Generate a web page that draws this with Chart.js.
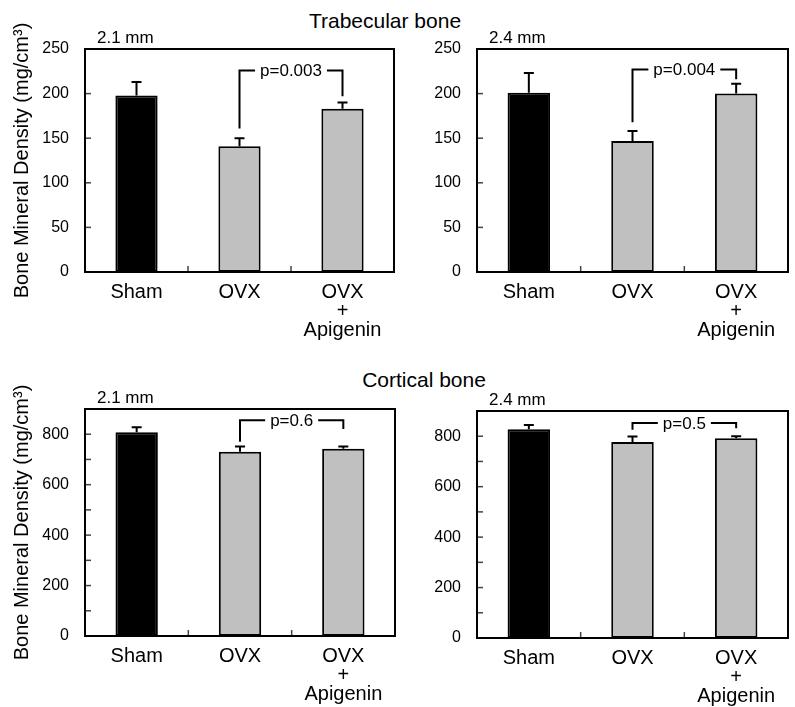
<!DOCTYPE html>
<html>
<head>
<meta charset="utf-8">
<script src="https://cdn.jsdelivr.net/npm/chart.js@4.4.1/dist/chart.umd.min.js"></script>
<style>
    body { margin: 0; background: #fff; }
    #fig { position: relative; width: 795px; height: 707px; font-family: "Liberation Sans", Arial, sans-serif; }
    canvas { position: absolute; }
    .title { position: absolute; font-size: 21px; color: #000; white-space: nowrap; transform: translate(-50%, -50%); }
</style>
</head>
<body>
<div id="fig">
    <div class="title" style="left:385px; top:21px;">Trabecular bone</div>
    <div class="title" style="left:424px; top:380px;">Cortical bone</div>
    <canvas id="c1" width="400" height="350" style="left:0; top:0;"></canvas>
    <canvas id="c2" width="398" height="350" style="left:397px; top:0;"></canvas>
    <canvas id="c3" width="400" height="357" style="left:0; top:350px;"></canvas>
    <canvas id="c4" width="398" height="357" style="left:397px; top:350px;"></canvas>
</div>
<script>
// Data
const categories = ["Sham", "OVX", ["OVX", "+", "Apigenin"]];
const barColors = ["#000000", "#c0c0c0", "#c0c0c0"];

const trab21 = [198, 141, 183];
const trab21Err = [15, 9, 7];
const trab24 = [201, 147, 200];
const trab24Err = [22, 11, 11];
const cort21 = [808, 731, 742];
const cort21Err = [20, 20, 9];
const cort24 = [828, 777, 792];
const cort24Err = [16, 22, 8];

// bracket heights: [left foot, top, right foot]
const trab21Bracket = [161, 226, 197];
const trab24Bracket = [168, 227, 216];
const cort21Bracket = [770, 855, 821];
const cort24Bracket = [826, 852, 832];

const pLabels = ["p=0.003", "p=0.004", "p=0.6", "p=0.5"];
const sliceLabels = ["2.1 mm", "2.4 mm", "2.1 mm", "2.4 mm"];

const trabTicks = [0, 50, 100, 150, 200, 250];
const cortTicks = [0, 100, 200, 300, 400, 500, 600, 700, 800, 900];

const FONT = "'Liberation Sans', Arial, sans-serif";

// Draws the box, inward ticks, error bars, p-value bracket and labels
const figurePlugin = {
    id: "figure",
    afterDatasetsDraw(chart, args, opts) {
        const ctx = chart.ctx;
        const a = chart.chartArea;
        const x = chart.scales.x;
        const y = chart.scales.y;
        ctx.save();

        // inward ticks
        ctx.strokeStyle = "#444";
        ctx.lineWidth = 1.5;
        opts.ticks.forEach((v) => {
            const py = y.getPixelForValue(v);
            ctx.beginPath();
            ctx.moveTo(a.left, py);
            ctx.lineTo(a.left + 6, py);
            ctx.stroke();
        });
        for (let i = 1; i < categories.length; i++) {
            const px = (x.getPixelForValue(i - 1) + x.getPixelForValue(i)) / 2;
            ctx.beginPath();
            ctx.moveTo(px, a.bottom);
            ctx.lineTo(px, a.bottom - 6);
            ctx.stroke();
        }

        // frame
        ctx.strokeStyle = "#000";
        ctx.lineWidth = 2;
        ctx.strokeRect(a.left, a.top, a.right - a.left, a.bottom - a.top);

        // error bars
        const values = chart.data.datasets[0].data;
        opts.err.forEach((e, i) => {
            const px = x.getPixelForValue(i);
            const y0 = y.getPixelForValue(values[i]);
            const y1 = y.getPixelForValue(values[i] + e);
            ctx.beginPath();
            ctx.moveTo(px, y0);
            ctx.lineTo(px, y1);
            ctx.moveTo(px - 5, y1);
            ctx.lineTo(px + 5, y1);
            ctx.stroke();
        });

        // bracket with p value
        const xl = x.getPixelForValue(1);
        const xr = x.getPixelForValue(2);
        const yt = y.getPixelForValue(opts.bracket[1]);
        ctx.font = "17px " + FONT;
        ctx.fillStyle = "#000";
        ctx.textAlign = "center";
        ctx.textBaseline = "middle";
        const mid = (xl + xr) / 2;
        const half = ctx.measureText(opts.p).width / 2 + 5;
        ctx.beginPath();
        ctx.moveTo(xl, y.getPixelForValue(opts.bracket[0]));
        ctx.lineTo(xl, yt);
        ctx.lineTo(mid - half, yt);
        ctx.moveTo(mid + half, yt);
        ctx.lineTo(xr, yt);
        ctx.lineTo(xr, y.getPixelForValue(opts.bracket[2]));
        ctx.stroke();
        ctx.fillText(opts.p, mid, yt + 1);

        // slice label above the frame
        ctx.textAlign = "left";
        ctx.textBaseline = "alphabetic";
        ctx.fillText(opts.slice, a.left + 12, a.top - 6);

        // y axis title (left panels only)
        if (opts.yTitle) {
            ctx.font = "20px " + FONT;
            ctx.textAlign = "center";
            ctx.textBaseline = "middle";
            ctx.translate(22, (a.top + a.bottom) / 2);
            ctx.rotate(-Math.PI / 2);
            ctx.fillText(opts.yTitle, 0, 0);
        }
        ctx.restore();
    },
};

function makePanel(id, values, err, bracket, p, slice, ticks, maxY, labelStep, layout) {
    new Chart(document.getElementById(id), {
        type: "bar",
        data: {
            labels: categories,
            datasets: [{
                data: values,
                backgroundColor: barColors,
                borderColor: "#000",
                borderWidth: 2,
                borderSkipped: false,
                categoryPercentage: 1,
                barPercentage: 0.41,
            }],
        },
        options: {
            responsive: false,
            animation: false,
            layout: { padding: { left: 0, top: layout.top, right: layout.right, bottom: 0 } },
            plugins: {
                legend: { display: false },
                tooltip: { enabled: false },
                figure: { err: err, bracket: bracket, p: p, slice: slice, ticks: ticks, yTitle: layout.yTitle },
            },
            scales: {
                x: {
                    grid: { display: false },
                    border: { display: false },
                    ticks: { color: "#000", font: { size: 20, family: FONT, lineHeight: 0.95 }, padding: 3, maxRotation: 0, autoSkip: false },
                    afterFit: (s) => { s.height = layout.xH; },
                },
                y: {
                    min: 0,
                    max: maxY,
                    grid: { display: false },
                    border: { display: false },
                    ticks: {
                        stepSize: ticks[1] - ticks[0],
                        color: "#000",
                        font: { size: 16, family: FONT },
                        padding: 8,
                        callback: (v) => (v % labelStep === 0 && !(maxY === 900 && v === 900) ? v : ""),
                    },
                    afterFit: (s) => { s.width = layout.yW; },
                },
            },
        },
        plugins: [figurePlugin],
    });
}

const yTitle = "Bone Mineral Density (mg/cm\u00B3)";
makePanel("c1", trab21, trab21Err, trab21Bracket, pLabels[0], sliceLabels[0], trabTicks, 250, 50, { top: 49, right: 6, xH: 78, yW: 85, yTitle: yTitle });
makePanel("c2", trab24, trab24Err, trab24Bracket, pLabels[1], sliceLabels[1], trabTicks, 250, 50, { top: 49, right: 7, xH: 78, yW: 80 });
makePanel("c3", cort21, cort21Err, cort21Bracket, pLabels[2], sliceLabels[2], cortTicks, 900, 200, { top: 59, right: 5, xH: 71, yW: 85, yTitle: yTitle });
makePanel("c4", cort24, cort24Err, cort24Bracket, pLabels[3], sliceLabels[3], cortTicks, 900, 200, { top: 61, right: 7, xH: 69, yW: 80 });
</script>
</body>
</html>
